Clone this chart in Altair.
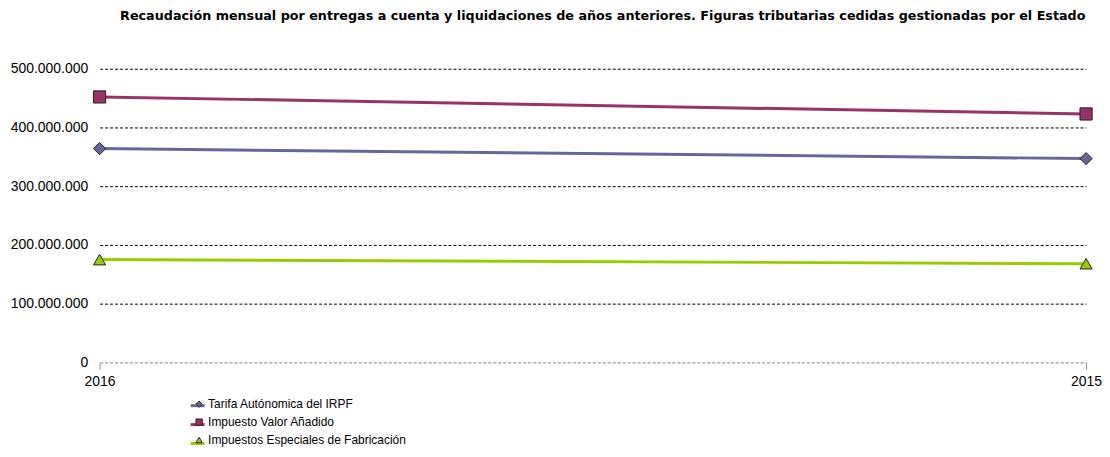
import altair as alt
import pandas as pd

years = ["2016", "2015"]
series = ["Tarifa Autónomica del IRPF", "Impuesto Valor Añadido", "Impuestos Especiales de Fabricación"]
irpf = [364000000, 347000000]
iva = [452000000, 423000000]
fab = [175000000, 168000000]
colors = ["#666699", "#993366", "#99CC00"]
shapes = ["diamond", "square", "triangle-up"]

rows = []
for name, vals in zip(series, [irpf, iva, fab]):
    for y, v in zip(years, vals):
        rows.append({"year": y, "serie": name, "serie_linea": name, "value": v})
df = pd.DataFrame(rows)

FONT = "Liberation Sans"

x = alt.X("year:O", sort=years, title=None,
          scale=alt.Scale(type="point", padding=0),
          axis=alt.Axis(labelAngle=0, labelFontSize=14, labelColor="#000", labelFont=FONT,
                        domainColor="#aaaaaa", domainDash=[3, 2], tickColor="#999999", tickSize=7,
                        labelPadding=5, grid=False))
y = alt.Y("value:Q", title=None,
          scale=alt.Scale(domain=[0, 500000000], nice=False),
          axis=alt.Axis(values=[0, 100000000, 200000000, 300000000, 400000000, 500000000],
                        labelExpr="replace(format(datum.value, ',d'), /,/g, '.')",
                        labelFontSize=14, labelColor="#000", labelFont=FONT, labelPadding=12,
                        domain=False, ticks=False,
                        gridDash=[3, 2],
                        gridColor={"condition": {"test": "datum.value === 0", "value": "#aaaaaa"}, "value": "#000000"},
                        gridWidth=1))

LX = 90
leg_common = dict(title=None, orient="none", labelFontSize=12, labelFont=FONT,
                  labelLimit=400, labelOffset=3)

lines = alt.Chart(df).mark_line(strokeWidth=3).encode(
    x=x, y=y,
    stroke=alt.Stroke("serie_linea:N", sort=series, scale=alt.Scale(range=colors),
                      legend=alt.Legend(legendX=LX, legendY=330, symbolType="stroke", symbolSize=196,
                                        symbolStrokeWidth=3, labelExpr="''",
                                        rowPadding=4, symbolOffset=0, **leg_common)),
    detail="serie_linea:N")
points = alt.Chart(df).mark_point(filled=True, size=150, stroke="#222", strokeWidth=1, opacity=1).encode(
    x=x, y=y,
    fill=alt.Fill("serie:N", sort=series, scale=alt.Scale(domain=series, range=colors),
                  legend=alt.Legend(legendX=LX + 4, legendY=331, symbolSize=40, symbolStrokeColor="#222",
                                    symbolStrokeWidth=1, labelColor="#000", rowPadding=6,
                                    symbolOffset=0, **leg_common)),
    shape=alt.Shape("serie:N", sort=series, scale=alt.Scale(domain=series, range=shapes)))

chart = (lines + points).properties(
    width=991, height=295,
    title=alt.TitleParams("Recaudación mensual por entregas a cuenta y liquidaciones de años anteriores. Figuras tributarias cedidas gestionadas por el Estado",
                          fontSize=12.8, font="DejaVu Sans", fontWeight="bold", anchor="middle",
                          color="#000", dy=-35, dx=10),
    autosize=alt.AutoSizeParams(type="none"),
    padding={"left": 92, "top": 60, "right": 16, "bottom": 86},
).configure_view(stroke=None)

chart.save("out.html", embed_options={"renderer": "svg", "actions": False})
